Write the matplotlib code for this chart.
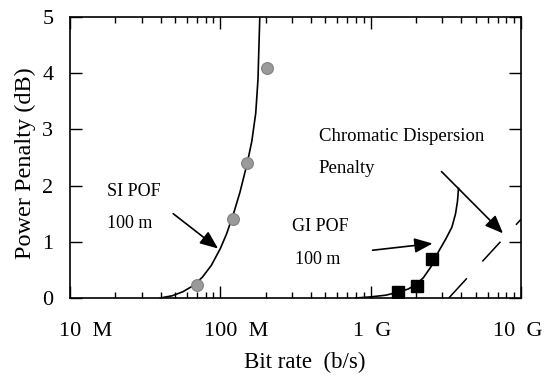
import matplotlib
matplotlib.use("Agg")
import matplotlib.pyplot as plt
import matplotlib.transforms as mtransforms
from matplotlib.ticker import LogLocator, NullFormatter, FixedLocator

plt.rcParams['font.family'] = ['Liberation Serif', 'DejaVu Serif']

# --- data ---
# SI POF 100 m : measured points (bit rate in b/s, penalty in dB)
si_rate = [70e6, 122e6, 151e6, 203e6]
si_pen = [0.23, 1.40, 2.40, 4.09]
# SI POF calculated curve
si_curve_rate = [3.98e7, 4.79e7, 5.62e7, 6.61e7, 7.59e7, 8.71e7, 1.0e8, 1.10e8,
                 1.23e8, 1.35e8, 1.51e8, 1.62e8, 1.72e8, 1.78e8, 1.83e8]
si_curve_pen = [0.0, 0.04, 0.11, 0.22, 0.37, 0.58, 0.88, 1.14,
                1.52, 1.88, 2.40, 2.79, 3.29, 3.89, 5.0]

# GI POF 100 m : measured points
gi_rate = [1.52e9, 2.02e9, 2.54e9]
gi_pen = [0.10, 0.21, 0.69]
# GI POF calculated curve
gi_curve_rate = [7.94e8, 1.0e9, 1.26e9, 1.51e9, 1.78e9, 2.0e9, 2.24e9, 2.51e9,
                 2.82e9, 3.16e9, 3.47e9, 3.67e9, 3.78e9, 3.84e9]
gi_curve_pen = [0.0, 0.02, 0.05, 0.10, 0.16, 0.24, 0.36, 0.55,
                0.82, 1.05, 1.26, 1.50, 1.72, 1.95]

# chromatic dispersion penalty (dashed)
cd_rate = [3.31e9, 1.0e10]
cd_pen = [0.0, 1.40]

# x tick labels
xtick_vals = [1e7, 1e8, 1e9, 1e10]
xtick_labels = ["10  M", "100  M", "1  G", "10  G"]

# --- figure ---
fig = plt.figure(figsize=(5.46, 3.81), dpi=100)
ax = fig.add_axes([70/546, 1-298/381, (521-70)/546, (298-17)/381])

ax.plot(si_curve_rate, si_curve_pen, color='k', lw=1.2)
ax.plot(gi_curve_rate, gi_curve_pen, color='k', lw=1.2)
ax.plot(cd_rate, cd_pen, color='k', lw=1.1, linestyle=(0, (17.5, 15)))

ax.plot(si_rate, si_pen, linestyle='none', marker='o', markersize=8.5,
        mfc='#9a9a9a', mec='#808080', mew=0.8)
ax.plot(gi_rate, gi_pen, linestyle='none', marker='s', markersize=8,
        mfc='k', mec='k')

ax.set_xscale('log')
ax.set_xlim(1e7, 1e10)
ax.set_ylim(0, 5)

# ticks
ax.xaxis.set_major_locator(FixedLocator(xtick_vals))
ax.set_xticklabels(xtick_labels)
ax.xaxis.set_minor_locator(LogLocator(base=10, subs=range(2, 10)))
ax.xaxis.set_minor_formatter(NullFormatter())
ax.set_yticks([0, 1, 2, 3, 4, 5])
ax.tick_params(axis='both', which='major', direction='in', length=8.5,
               width=1.0, top=True, right=True, labelsize=16)
ax.tick_params(axis='x', which='minor', direction='in', length=4.5,
               width=1.0, top=True)
ax.tick_params(axis='x', which='major', pad=17)
ax.tick_params(axis='y', which='major', pad=12)
for sp in ax.spines.values():
    sp.set_linewidth(1.2)

# shift x tick labels a bit like in the original
offsets = [16, 16, 2, -3]
for lab, dx in zip(ax.get_xticklabels(), offsets):
    lab.set_transform(lab.get_transform() +
                      mtransforms.ScaledTranslation(dx/100, 0, fig.dpi_scale_trans))

ax.set_xlabel("Bit rate  (b/s)", fontsize=16.5)
ax.set_ylabel("Power Penalty (dB)", fontsize=17.5)
ax.xaxis.set_label_coords(0.52, -0.19)
ax.yaxis.set_label_coords(-0.075, 0.48)

# annotations
txt = dict(fontsize=13, va='center', ha='left')
ax.text(1.76e7, 1.90, "SI POF", **txt)
ax.text(1.76e7, 1.32, "100 m", **txt)
ax.text(3.0e8, 1.28, "GI POF", **txt)
ax.text(3.15e8, 0.68, "100 m", **txt)
ax.text(4.5e8, 2.88, "Chromatic Dispersion", fontsize=13.5, va='center', ha='left')
ax.text(4.5e8, 2.31, "Penalty", fontsize=13.5, va='center', ha='left')

arr = dict(arrowstyle='-|>,head_length=1.1,head_width=0.45', color='k',
           lw=1.2, shrinkA=0, shrinkB=0)
ax.annotate('', xy=(9.66e7, 0.88), xytext=(4.86e7, 1.50), arrowprops=arr)
ax.annotate('', xy=(2.58e9, 0.97), xytext=(1.03e9, 0.85), arrowprops=arr)
ax.annotate('', xy=(7.59e9, 1.15), xytext=(2.96e9, 2.25), arrowprops=arr)

fig.savefig("out.png", dpi=100)
